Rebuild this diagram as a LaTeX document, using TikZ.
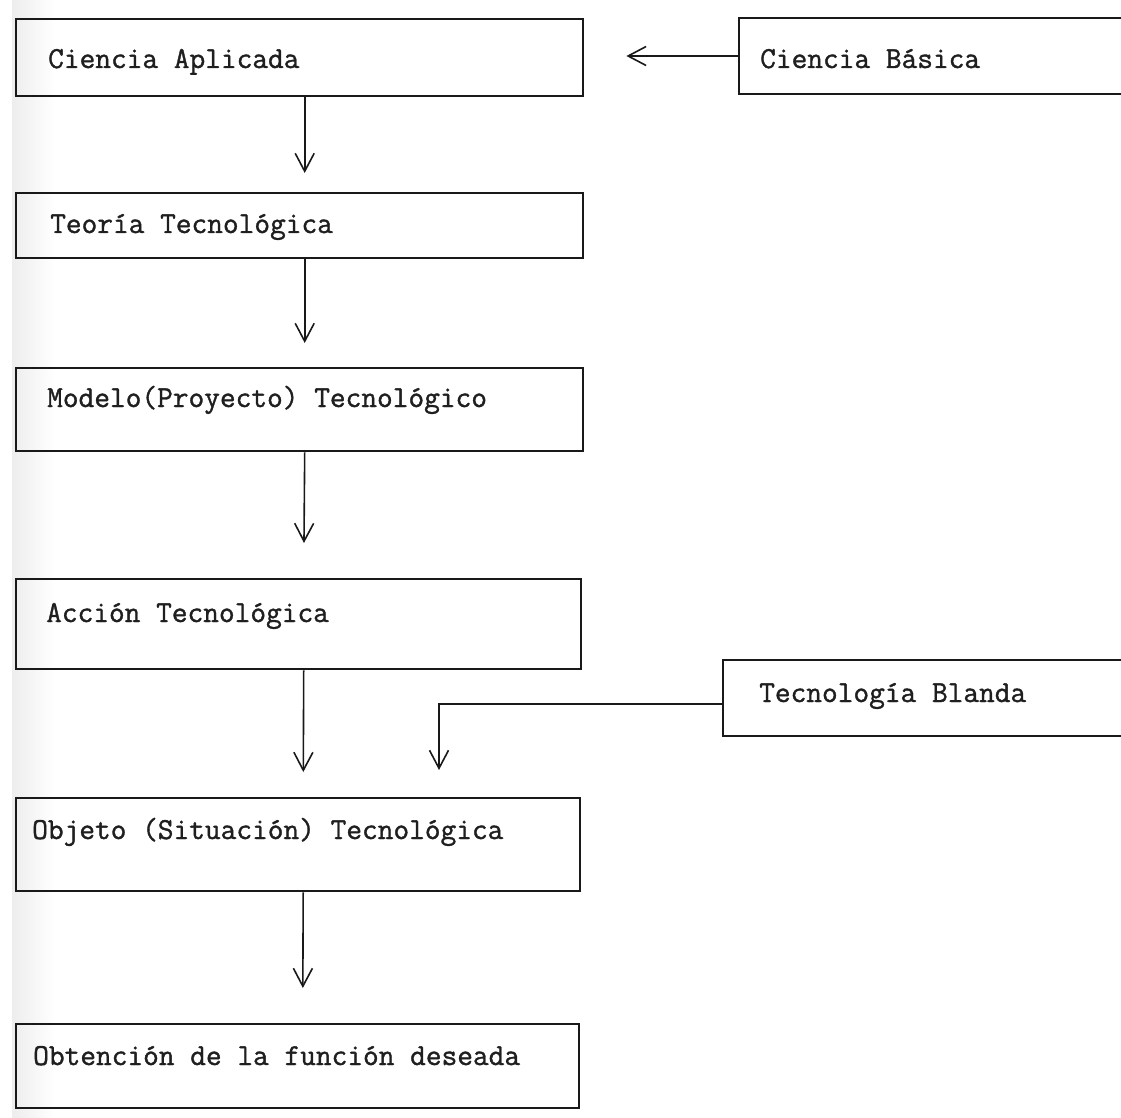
\documentclass[tikz,border=0pt]{standalone}
\usepackage{fontspec}
\newfontfamily\typewr{Latin Modern Mono}[FakeBold=1.2]
\usetikzlibrary{arrows.meta}
\begin{document}
\begin{tikzpicture}[x=1pt,y=-1pt,
  box/.style={draw=black!90, line width=2.4pt, rectangle, inner sep=0pt, anchor=north west},
  lbl/.style={anchor=base west, inner sep=0pt, font=\fontsize{30.5}{36}\selectfont\typewr, text=black!88},
  arr/.style={draw=black!90, line width=1.6pt, -{Straight Barb[length=18pt,width=19pt,line width=1.6pt]}},
  open/.style={draw=black!90, line width=2.4pt}]
\useasboundingbox (0,0) rectangle (1121,1118);
% faint shadow along the binding edge
\shade[left color=black!7, right color=white] (12,0) rectangle (55,1118);

% main column
\node[box, minimum width=567pt, minimum height=77pt] (ca) at (15,18) {};
\node[box, minimum width=567pt, minimum height=65pt] (tt) at (15,192) {};
\node[box, minimum width=567pt, minimum height=83pt] (mt) at (15,367) {};
\node[box, minimum width=565pt, minimum height=90pt] (at) at (15,578) {};
\node[box, minimum width=564pt, minimum height=93pt] (ot) at (15,797) {};
\node[box, minimum width=563pt, minimum height=84pt] (of) at (15,1023) {};

% side boxes, open to the right
\coordinate (cbnw) at (739,18);
\coordinate (cbsw) at (739,94);
\draw[open] (1130,18) -- (cbnw) -- (cbsw) -- (1130,94);
\coordinate (tbnw) at (723,660);
\coordinate (tbsw) at (723,736);
\draw[open] (1130,660) -- (tbnw) -- (tbsw) -- (1130,736);

% labels
\node[lbl] (cat) at (48,68) {Ciencia Aplicada};
\node[lbl] (ttt) at (50,233) {Teoría Tecnológica};
\node[lbl] (mtt) at (47,407) {Modelo(Proyecto) Tecnológico};
\node[lbl] (att) at (46,622) {Acción Tecnológica};
\node[lbl] (ott) at (32,839) {Objeto (Situación) Tecnológica};
\node[lbl] (oft) at (33,1065) {Obtención de la función deseada};
\node[lbl] (cbt) at (760,68) {Ciencia Básica};
\node[lbl] (tbt) at (759,702) {Tecnología Blanda};

% connectors
\draw[arr, shorten >=19pt] ([xshift=5pt]ca.south) -- ([xshift=5pt]tt.north);
\draw[arr, shorten >=24pt] ([xshift=5pt]tt.south) -- ([xshift=5pt]mt.north);
\draw[arr, shorten >=35pt] ([xshift=5pt]mt.south) -- ([xshift=5pt]at.north);
\draw[arr, shorten >=25pt] ([xshift=5pt]at.south) -- ([xshift=5pt]ot.north);
\draw[arr, shorten >=35pt] ([xshift=5pt]ot.south) -- ([xshift=5pt]of.north);
\coordinate (cbw) at (739,56);
\draw[arr, shorten >=42pt] (cbw) -- (ca.east |- cbw);
\coordinate (tbw) at (723,704);
\coordinate (tbend) at (439,797);
\draw[arr, shorten >=27pt] (tbw) -| (tbend);
\end{tikzpicture}
\end{document}
